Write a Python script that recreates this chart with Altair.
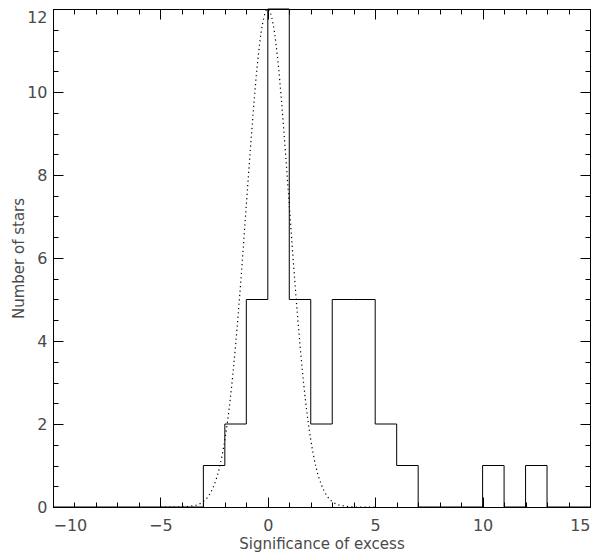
import altair as alt
import pandas as pd

# Histogram: left bin edges (width 1) and number of stars per bin (last entry closes the step at x=15)
bin_edges = [-10, -9, -8, -7, -6, -5, -4, -3, -2, -1, 0, 1, 2, 3, 4, 5, 6, 7, 8, 9, 10, 11, 12, 13, 14, 15]
counts = [0, 0, 0, 0, 0, 0, 0, 1, 2, 5, 12, 5, 2, 5, 5, 2, 1, 0, 0, 0, 1, 0, 1, 0, 0, 0]

# Dotted reference curve
gauss_x = [-5.0, -4.75, -4.5, -4.25, -4.0, -3.75, -3.5, -3.25, -3.0, -2.75, -2.5, -2.25, -2.0,
           -1.75, -1.5, -1.25, -1.0, -0.75, -0.5, -0.25, 0.0, 0.25, 0.5, 0.75, 1.0, 1.25, 1.5,
           1.75, 2.0, 2.25, 2.5, 2.75, 3.0, 3.25, 3.5, 3.75, 4.0, 4.25, 4.5, 4.75, 5.0]
gauss_y = [0.0, 0.0, 0.0, 0.0, 0.0, 0.01, 0.03, 0.06, 0.13, 0.27, 0.53, 0.95, 1.62,
           2.59, 3.90, 5.49, 7.28, 9.04, 10.59, 11.63, 12.0, 11.63, 10.59, 9.04, 7.28, 5.49, 3.90,
           2.59, 1.62, 0.95, 0.53, 0.27, 0.13, 0.06, 0.03, 0.01, 0.0, 0.0, 0.0, 0.0, 0.0]

# Tick values
x_major = [-10, -5, 0, 5, 10, 15]
x_minor = [-10, -9, -8, -7, -6, -5, -4, -3, -2, -1, 0, 1, 2, 3, 4, 5, 6, 7, 8, 9, 10, 11, 12, 13, 14, 15]
y_major = [0, 2, 4, 6, 8, 10, 12]
y_minor = [0, 0.5, 1, 1.5, 2, 2.5, 3, 3.5, 4, 4.5, 5, 5.5, 6, 6.5, 7, 7.5, 8, 8.5, 9, 9.5,
           10, 10.5, 11, 11.5, 12]

x_title = "Significance of excess"
y_title = "Number of stars"

hist = pd.DataFrame({"x": bin_edges, "n": counts})
gauss = pd.DataFrame({"x": gauss_x, "n": gauss_y})

xs = alt.Scale(domain=[-10, 15], nice=False, zero=False)
ys = alt.Scale(domain=[0, 12], nice=False, zero=False)

FONT = "DejaVu Sans"
TXT = "#4a4a4a"


def axis(orient, values, size, labels=False, **kw):
    return alt.Axis(
        orient=orient, values=values, tickSize=size, offset=-size, domain=False,
        grid=False, labels=labels, ticks=True, tickColor="black", tickWidth=1,
        labelFont=FONT, labelFontSize=16, labelColor=TXT,
        titleFont=FONT, titleFontSize=15, titleColor=TXT, titleFontWeight="normal",
        **kw,
    )


base_hist = alt.Chart(hist)

l1 = base_hist.mark_line(interpolate="step-after", color="black", strokeWidth=1).encode(
    x=alt.X("x:Q", scale=xs,
            axis=axis("bottom", x_major, 10, labels=True, title=x_title,
                      labelPadding=10, titlePadding=3)),
    y=alt.Y("n:Q", scale=ys,
            axis=axis("left", y_major, 10, labels=True, title=y_title,
                      labelPadding=6, titlePadding=0,
                      labelBaseline={"condition": {"test": "datum.value == 12", "value": "top"},
                                     "value": "middle"})),
)

l2 = alt.Chart(gauss).mark_line(interpolate="monotone", color="black", strokeWidth=1.2,
                                 strokeDash=[1.2, 3.2]).encode(
    x=alt.X("x:Q", scale=xs, axis=axis("top", x_major, 10), title=None),
    y=alt.Y("n:Q", scale=ys, axis=axis("right", y_major, 10), title=None),
)

l3 = base_hist.mark_line(opacity=0).encode(
    x=alt.X("x:Q", scale=xs, axis=axis("bottom", x_minor, 5), title=None),
    y=alt.Y("n:Q", scale=ys, axis=axis("left", y_minor, 5), title=None),
)

l4 = base_hist.mark_line(opacity=0).encode(
    x=alt.X("x:Q", scale=xs, axis=axis("top", x_minor, 5), title=None),
    y=alt.Y("n:Q", scale=ys, axis=axis("right", y_minor, 5), title=None),
)

chart = (
    alt.layer(l1, l2, l3, l4)
    .resolve_scale(x="shared", y="shared")
    .resolve_axis(x="independent", y="independent")
    .properties(
        width=537, height=498,
        autosize=alt.AutoSizeParams(type="none"),
        padding={"left": 45, "top": 1, "right": 2, "bottom": 48},
        background="white",
    )
    .configure_view(stroke="black", strokeWidth=1)
)

chart.save("out.html", embed_options={"renderer": "svg", "actions": False})
